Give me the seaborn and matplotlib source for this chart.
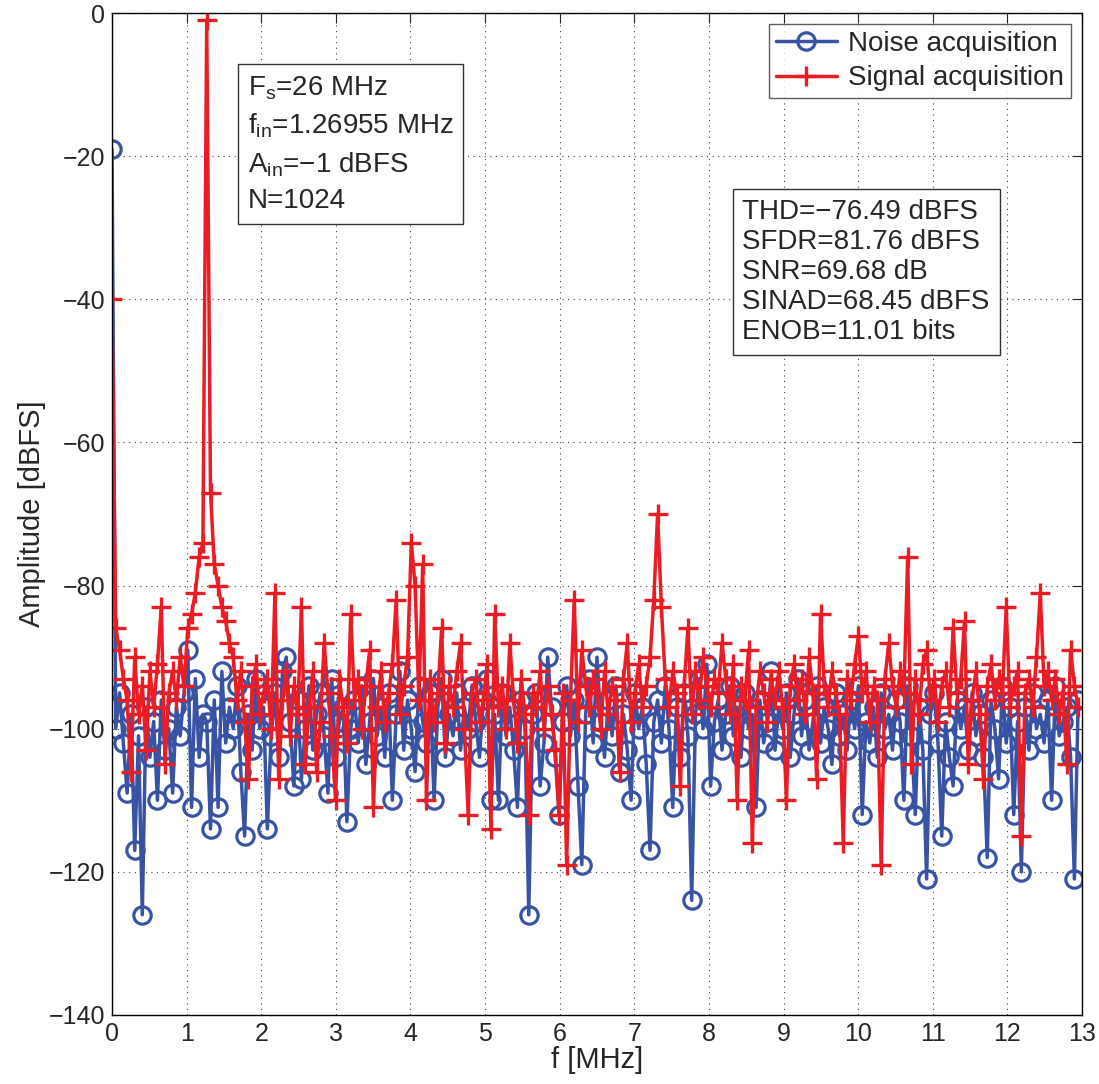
import numpy as np
import pandas as pd
import seaborn as sns
import matplotlib.pyplot as plt
from matplotlib import font_manager

# Acquisition settings
fs_mhz = 26
n_fft = 1024

# Spectrum magnitudes in dBFS (every other FFT bin, 0 .. Fs/2)
noise_db = [
    -19, -100, -95, -102, -109, -98, -117, -101, -126, -97, -104, -99, -110, -96, -103, -100,
    -109, -97, -101, -95, -89, -111, -93, -104, -98, -99, -114, -96, -111, -92, -102, -97,
    -100, -94, -106, -115, -98, -103, -93, -100, -97, -114, -101, -95, -104, -92, -90, -99,
    -108, -96, -107, -100, -94, -103, -98, -95, -101, -109, -93, -104, -99, -97, -113, -100,
    -96, -102, -94, -105, -99, -93, -101, -97, -104, -95, -110, -98, -92, -103, -96, -100,
    -106, -94, -99, -102, -95, -110, -97, -93, -104, -98, -101, -95, -103, -97, -100, -94,
    -99, -104, -96, -93, -110, -98, -110, -95, -101, -97, -103, -111, -96, -100, -126, -98,
    -95, -108, -102, -90, -97, -104, -112, -99, -94, -101, -96, -108, -119, -98, -93, -102,
    -90, -99, -104, -96, -101, -94, -106, -98, -103, -110, -95, -100, -97, -105, -117, -99,
    -96, -102, -94, -100, -111, -97, -104, -95, -101, -124, -98, -93, -100, -91, -108, -99,
    -96, -103, -98, -94, -101, -97, -104, -95, -100, -98, -111, -96, -102, -99, -92, -103,
    -97, -100, -95, -104, -98, -93, -101, -96, -103, -99, -94, -102, -97, -100, -105, -95,
    -101, -98, -103, -96, -100, -94, -112, -99, -102, -97, -104, -95, -100, -98, -103, -96,
    -99, -110, -94, -101, -112, -97, -103, -121, -98, -95, -102, -115, -99, -104, -108, -96,
    -100, -97, -103, -95, -101, -98, -104, -118, -96, -100, -107, -94, -102, -97, -112, -99,
    -120, -97, -103, -95, -100, -98, -102, -96, -110, -94, -101, -99, -97, -104, -121, -96,
]

signal_db = [
    -40, -86, -89, -93, -96, -106, -90, -98, -94, -103, -92, -97, -91, -83, -105, -95,
    -92, -96, -90, -94, -86, -84, -81, -76, -74, -1, -67, -77, -80, -83, -85, -88,
    -90, -96, -92, -99, -107, -94, -91, -98, -95, -93, -100, -81, -107, -96, -92, -101,
    -94, -98, -83, -105, -97, -92, -106, -99, -88, -95, -101, -110, -93, -97, -102, -84,
    -96, -93, -100, -94, -89, -111, -97, -92, -99, -95, -91, -82, -98, -94, -90, -74,
    -80, -96, -77, -110, -93, -99, -95, -86, -102, -94, -97, -92, -88, -100, -112, -95,
    -93, -99, -96, -91, -114, -84, -97, -94, -100, -88, -96, -102, -93, -98, -112, -95,
    -97, -92, -100, -94, -98, -103, -112, -95, -119, -96, -82, -99, -89, -94, -97, -93,
    -95, -100, -92, -98, -94, -96, -106, -93, -88, -99, -95, -91, -97, -94, -90, -82,
    -70, -83, -93, -97, -92, -95, -108, -94, -86, -98, -92, -96, -90, -94, -97, -93,
    -95, -88, -93, -98, -91, -110, -94, -96, -89, -116, -97, -92, -95, -99, -93, -96,
    -92, -97, -110, -94, -91, -96, -93, -98, -90, -95, -107, -84, -94, -97, -92, -95,
    -98, -116, -93, -96, -91, -87, -95, -92, -99, -94, -96, -119, -93, -88, -94, -97,
    -92, -95, -76, -105, -93, -98, -91, -89, -96, -93, -99, -94, -92, -97, -86, -95,
    -93, -85, -105, -96, -92, -98, -107, -94, -91, -96, -93, -95, -83, -97, -94, -92,
    -115, -95, -93, -97, -90, -81, -94, -92, -96, -93, -98, -95, -105, -89, -94, -97,
]

setup_lines = [r"F$_\mathrm{s}$=26 MHz", r"f$_\mathrm{in}$=1.26955 MHz",
               r"A$_\mathrm{in}$=$-$1 dBFS", "N=1024"]
metric_lines = ["THD=\u221276.49 dBFS", "SFDR=81.76 dBFS", "SNR=69.68 dB",
                "SINAD=68.45 dBFS", "ENOB=11.01 bits"]

freq = np.arange(len(noise_db)) * 2 * fs_mhz / n_fft
df = pd.DataFrame({"f": freq, "noise": noise_db, "signal": signal_db})

sns.set_style("white")
plt.rcParams["font.family"] = ["Liberation Sans", "DejaVu Sans"]
plt.rcParams["mathtext.fontset"] = "custom"
plt.rcParams["mathtext.rm"] = "Liberation Sans"
plt.rcParams["mathtext.it"] = "Liberation Sans"

# MATLAB-style narrow axis fonts if the narrow face exists
installed = {f.name for f in font_manager.fontManager.ttflist}
if "Liberation Sans Narrow" in installed:
    axis_font, tick_size, label_size = "Liberation Sans Narrow", 22, 25
else:
    axis_font, tick_size, label_size = "Liberation Sans", 18, 21

blue = "#3953a4"
red = "#ec1c24"

fig = plt.figure(figsize=(10.99, 10.84), dpi=100)
ax = fig.add_axes([0.1019, 0.0637, 0.8826, 0.9243])

sns.lineplot(data=df, x="f", y="noise", ax=ax, color=blue, lw=2.5,
             marker="o", markersize=12.5, markerfacecolor="none",
             markeredgecolor=blue, markeredgewidth=2.3,
             estimator=None, sort=False, label="Noise acquisition")
sns.lineplot(data=df, x="f", y="signal", ax=ax, color=red, lw=2.5,
             marker="+", markersize=15, markeredgecolor=red, markeredgewidth=2.4,
             estimator=None, sort=False, label="Signal acquisition")

ax.set_xlim(0, 13)
ax.set_ylim(-140, 0)
ax.set_xticks(range(0, 14))
ax.set_yticks(range(-140, 1, 20))
ax.grid(True, linestyle=(0, (1, 4)), color="#444444", linewidth=0.8)
ax.tick_params(direction="in", length=7, width=0.8, top=True, right=True,
               labelsize=tick_size, pad=5)
for lab in ax.get_xticklabels() + ax.get_yticklabels():
    lab.set_family(axis_font)
for s in ax.spines.values():
    s.set_linewidth(1.0)
    s.set_color("black")

ax.set_xlabel("f [MHz]", fontsize=label_size, family=axis_font, labelpad=0)
ax.set_ylabel("Amplitude [dBFS]", fontsize=label_size, family=axis_font, labelpad=2)

box = dict(boxstyle="square,pad=0.35", facecolor="white", edgecolor="#333333", linewidth=1.0)
ax.text(1.82, -8.6, "\n".join(setup_lines), fontsize=20, va="top", ha="left",
        linespacing=1.45, bbox=box)
ax.text(8.45, -26.0, "\n".join(metric_lines), fontsize=20, va="top", ha="left",
        linespacing=1.2, bbox=box)

leg = ax.legend(loc="upper right", fontsize=20, frameon=True, fancybox=False,
                edgecolor="#333333", borderaxespad=0.4, handlelength=2.2,
                borderpad=0.25, labelspacing=0.3, handletextpad=0.4)
leg.get_frame().set_linewidth(1.0)

fig.savefig("out.png", dpi=100)
